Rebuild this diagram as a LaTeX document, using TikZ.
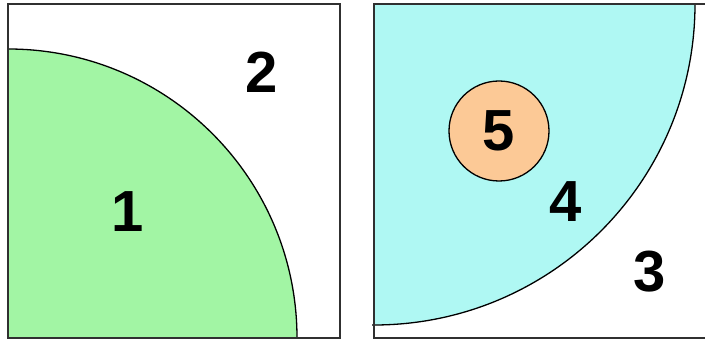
\documentclass[tikz,border=0pt]{standalone}
\usepackage{fontspec}
\setmainfont{Liberation Sans}
\usepackage{tikz}
\definecolor{rgreen}{HTML}{A2F5A4}
\definecolor{rcyan}{HTML}{AFF8F3}
\definecolor{rorange}{HTML}{FCC996}
\definecolor{rframe}{HTML}{303030}
\begin{document}
\begin{tikzpicture}[
  x=1pt, y=1pt,
  frame/.style={draw=rframe, line width=1.2pt},
  rim/.style={draw=black, line width=1.3pt},
  num/.style={font=\fontsize{58}{60}\selectfont\bfseries, inner sep=0pt},
]
\useasboundingbox (0,0) rectangle (705,340);

% Left square: quarter disc at the bottom left
\fill[rgreen] (8,2) -- (8,291) arc[start angle=90, end angle=0, radius=289] -- cycle;
\draw[rim] (8,291) arc[start angle=90, end angle=0, radius=289];
\draw[frame] (8,2) rectangle (340,336);
\node[num] (n1) at (128,128) {1};
\node[num] (n2) at (262,268) {2};

% Right square: quarter disc at the top left, small disc inside
\fill[rcyan] (374,336) -- (695,336) arc[start angle=0, end angle=-90, radius=321] -- cycle;
\draw[rim] (695,336) arc[start angle=0, end angle=-90, radius=321] -- ++(-2,0);
\draw[frame] (374,2) rectangle (710,336);
\node[circle, rim, fill=rorange, minimum size=100pt, inner sep=0pt] (c5) at (499,209) {};
\node[num] (n5) at (c5) {5};
\node[num] (n4) at (566,138) {4};
\node[num] (n3) at (650,68) {3};
\end{tikzpicture}
\end{document}
